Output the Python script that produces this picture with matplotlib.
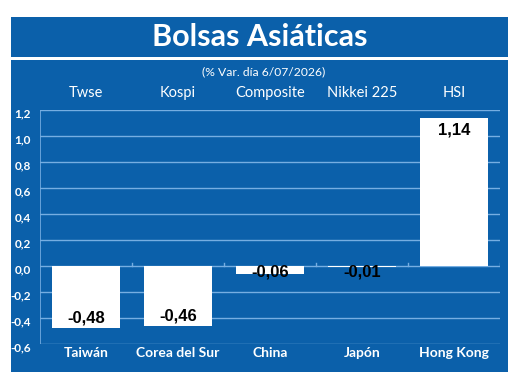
import matplotlib.pyplot as plt
from matplotlib.patches import Rectangle

plt.rcParams.update({"font.family": ["Lato", "DejaVu Sans"]})

countries = ["Taiwán", "Corea del Sur", "China", "Japón", "Hong Kong"]
indices = ["Twse", "Kospi", "Composite", "Nikkei 225", "HSI"]
values = [-0.48, -0.46, -0.06, -0.01, 1.14]
yticks = [-0.6, -0.4, -0.2, 0.0, 0.2, 0.4, 0.6, 0.8, 1.0, 1.2]

BLUE = "#0b60aa"
GRID = "#76aee2"
W, H = 520, 386

fig = plt.figure(figsize=(5.2, 3.86), dpi=100)
fig.patch.set_facecolor("white")


def px_rect(x0, y0, x1, y1, color):
    # rectangle given in pixel coords from the top-left corner
    fig.patches.append(
        Rectangle((x0 / W, 1 - y1 / H), (x1 - x0) / W, (y1 - y0) / H,
                  transform=fig.transFigure, facecolor=color,
                  edgecolor="none", zorder=-5)
    )


px_rect(11, 17, 508, 57, BLUE)
px_rect(11, 60, 508, 372, BLUE)

fig.text(260 / W, 1 - 37 / H, "Bolsas Asiáticas", color="white",
         fontsize=22, fontweight="bold", ha="center", va="center")
fig.text(264 / W, 1 - 72 / H, "(% Var. día 6/07/2026)", color="white",
         fontsize=8.7, ha="center", va="center")

ax = fig.add_axes([40 / W, 1 - 344 / H, 460 / W, 234 / H])
ax.set_facecolor("none")
x = list(range(len(values)))
ax.bar(x, values, width=0.73, color="white", zorder=3)
ax.set_xlim(-0.5, 4.5)
ax.set_ylim(-0.6, 1.2)

for t in yticks:
    ax.axhline(t, color=GRID, lw=1, zorder=1)
ax.axvline(-0.5, color=GRID, lw=1.2, zorder=1)
for b in [0.5, 1.5, 2.5, 3.5, 4.5]:
    ax.plot([b, b], [0, 0.02], color=GRID, lw=1, zorder=2)

for s in ax.spines.values():
    s.set_visible(False)
ax.set_xticks([])
ax.set_yticks([])

for t in yticks:
    lbl = f"{t:.1f}".replace(".", ",")
    ax.text(-0.6, t - 0.03, lbl, color="white", fontsize=8.5,
            fontweight="bold", ha="right", va="center", clip_on=False)

for i, (c, idx, v) in enumerate(zip(countries, indices, values)):
    ax.text(i, -0.67, c, color="white", fontsize=10, fontweight="bold",
            ha="center", va="center", clip_on=False)
    ax.text(i, 1.33, idx, color="white", fontsize=10.5,
            ha="center", va="center", clip_on=False)
    lbl = f"{v:.2f}".replace(".", ",")
    if v > 0:
        ly = v - 0.095
    else:
        ly = min(v * 0.83, -0.045)
    ax.text(i, ly, lbl, color="black", fontsize=12, fontweight="bold",
            family="Liberation Sans", ha="center", va="center", zorder=4)

fig.savefig("out.png", dpi=100)
